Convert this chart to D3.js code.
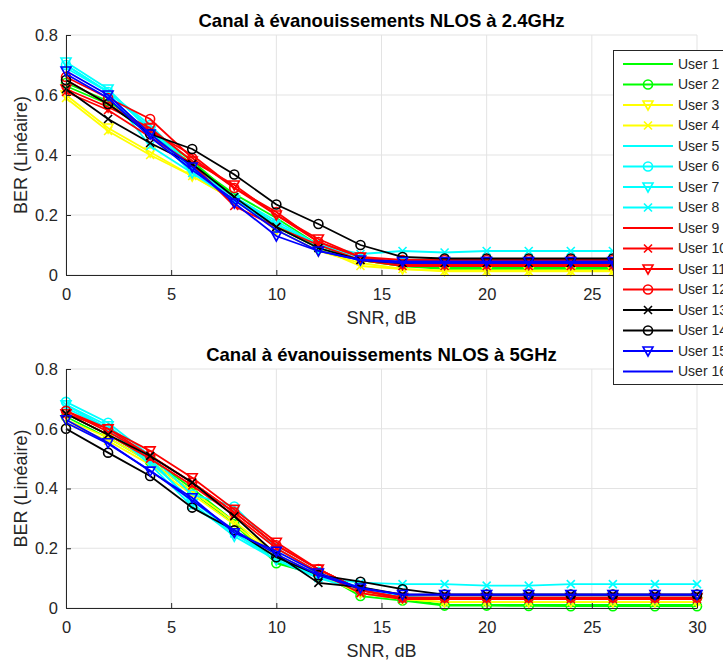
<!DOCTYPE html>
<html><head><meta charset="utf-8">
<script src="https://cdn.jsdelivr.net/npm/d3@7"></script>
<style>body{margin:0;background:#fff}svg{display:block;font-family:"Liberation Sans",Arial,sans-serif}</style>
</head><body><svg id="c" width="723" height="664"></svg>
<script>
const snr = [0,2,4,6,8,10,12,14,16,18,20,22,24,26,28,30];
const xTicks = [0,5,10,15,20,25,30];
const yTicks = [0,0.2,0.4,0.6,0.8];
const users = ["User 1","User 2","User 3","User 4","User 5","User 6","User 7","User 8","User 9","User 10","User 11","User 12","User 13","User 14","User 15","User 16"];
const colors = ["#00ff00","#00ff00","#ffff00","#ffff00","#00ffff","#00ffff","#00ffff","#00ffff","#ff0000","#ff0000","#ff0000","#ff0000","#000000","#000000","#0000ff","#0000ff"];
const markers = ["none","o","v","x","none","o","v","x","none","x","v","o","x","o","v","none"];
const titles = ["Canal à évanouissements NLOS à 2.4GHz","Canal à évanouissements NLOS à 5GHz"];
const xLabel = "SNR, dB";
const yLabel = "BER (Linéaire)";

const ber24 = [
 [0.63,0.57,0.47,0.37,0.27,0.19,0.10,0.05,0.03,0.02,0.02,0.02,0.02,0.02,0.02,0.02],
 [0.64,0.58,0.48,0.38,0.26,0.17,0.09,0.05,0.03,0.025,0.025,0.025,0.025,0.025,0.025,0.025],
 [0.60,0.49,0.41,0.33,0.25,0.15,0.08,0.04,0.02,0.015,0.015,0.015,0.015,0.015,0.015,0.015],
 [0.59,0.48,0.40,0.33,0.25,0.16,0.09,0.03,0.02,0.012,0.012,0.012,0.012,0.012,0.012,0.012],
 [0.69,0.61,0.49,0.35,0.26,0.18,0.10,0.06,0.04,0.035,0.035,0.035,0.035,0.035,0.035,0.035],
 [0.70,0.61,0.50,0.36,0.26,0.17,0.10,0.06,0.04,0.04,0.04,0.04,0.04,0.04,0.04,0.04],
 [0.71,0.62,0.48,0.34,0.25,0.16,0.09,0.05,0.04,0.035,0.035,0.035,0.035,0.035,0.035,0.035],
 [0.70,0.61,0.43,0.34,0.25,0.17,0.10,0.07,0.08,0.075,0.08,0.08,0.08,0.08,0.08,0.08],
 [0.65,0.57,0.48,0.40,0.29,0.20,0.11,0.06,0.04,0.035,0.035,0.035,0.035,0.035,0.035,0.035],
 [0.61,0.55,0.46,0.37,0.23,0.16,0.10,0.05,0.03,0.03,0.03,0.03,0.03,0.03,0.03,0.03],
 [0.62,0.56,0.49,0.38,0.30,0.20,0.12,0.06,0.035,0.035,0.035,0.035,0.035,0.035,0.035,0.035],
 [0.66,0.59,0.52,0.39,0.29,0.21,0.11,0.06,0.05,0.05,0.05,0.05,0.05,0.05,0.05,0.05],
 [0.62,0.52,0.44,0.37,0.26,0.16,0.09,0.05,0.04,0.04,0.04,0.04,0.04,0.04,0.04,0.04],
 [0.65,0.57,0.47,0.42,0.335,0.235,0.17,0.10,0.06,0.055,0.055,0.055,0.055,0.055,0.055,0.055],
 [0.68,0.60,0.47,0.36,0.24,0.13,0.08,0.05,0.045,0.045,0.045,0.045,0.045,0.045,0.045,0.045],
 [0.67,0.59,0.46,0.35,0.25,0.15,0.08,0.05,0.04,0.04,0.04,0.04,0.04,0.04,0.04,0.04]
];
const ber5 = [
 [0.65,0.58,0.50,0.40,0.29,0.15,0.11,0.05,0.03,0.01,0.01,0.01,0.01,0.01,0.01,0.01],
 [0.64,0.57,0.49,0.39,0.28,0.15,0.12,0.04,0.025,0.008,0.008,0.007,0.006,0.006,0.006,0.006],
 [0.63,0.57,0.49,0.39,0.29,0.18,0.11,0.05,0.03,0.02,0.02,0.02,0.02,0.02,0.02,0.02],
 [0.62,0.56,0.48,0.38,0.28,0.17,0.11,0.05,0.03,0.02,0.02,0.02,0.02,0.02,0.02,0.02],
 [0.67,0.60,0.49,0.36,0.25,0.16,0.11,0.07,0.04,0.03,0.03,0.03,0.03,0.03,0.03,0.03],
 [0.69,0.62,0.51,0.38,0.34,0.20,0.12,0.06,0.035,0.035,0.035,0.035,0.035,0.035,0.035,0.035],
 [0.68,0.61,0.50,0.35,0.24,0.16,0.10,0.06,0.035,0.035,0.035,0.035,0.035,0.035,0.035,0.035],
 [0.68,0.60,0.48,0.34,0.25,0.17,0.10,0.085,0.08,0.08,0.075,0.075,0.08,0.08,0.08,0.08],
 [0.66,0.59,0.51,0.42,0.32,0.21,0.13,0.06,0.03,0.03,0.03,0.03,0.03,0.03,0.03,0.03],
 [0.65,0.58,0.50,0.41,0.31,0.20,0.12,0.05,0.03,0.03,0.03,0.03,0.03,0.03,0.03,0.03],
 [0.65,0.60,0.526,0.436,0.33,0.22,0.13,0.06,0.035,0.035,0.035,0.035,0.035,0.035,0.035,0.035],
 [0.66,0.60,0.51,0.42,0.32,0.21,0.13,0.06,0.035,0.035,0.035,0.035,0.035,0.035,0.035,0.035],
 [0.65,0.58,0.509,0.42,0.307,0.179,0.084,0.07,0.045,0.045,0.045,0.045,0.045,0.045,0.045,0.045],
 [0.60,0.52,0.442,0.336,0.26,0.17,0.11,0.088,0.063,0.045,0.045,0.045,0.045,0.045,0.045,0.045],
 [0.63,0.553,0.458,0.369,0.252,0.19,0.117,0.067,0.045,0.045,0.045,0.045,0.045,0.045,0.045,0.045],
 [0.62,0.55,0.46,0.36,0.26,0.18,0.11,0.065,0.045,0.045,0.045,0.045,0.045,0.045,0.045,0.045]
];

const svg = d3.select("#c");
const axisCol = "#262626";
const panels = [{top:35,bottom:275,data:ber24,title:titles[0],hideLast:true},{top:369,bottom:608,data:ber5,title:titles[1],hideLast:false}];
const left = 66, right = 697;

function drawMarker(g, type, color, cx, cy) {
  if (type === "o") g.append("circle").attr("cx",cx).attr("cy",cy).attr("r",4.5).attr("fill","none").attr("stroke",color).attr("stroke-width",1.6);
  else if (type === "v") g.append("path").attr("d",`M${cx-5},${cy-4}L${cx+5},${cy-4}L${cx},${cy+5}Z`).attr("fill","none").attr("stroke",color).attr("stroke-width",1.6);
  else if (type === "x") g.append("path").attr("d",`M${cx-4},${cy-4}L${cx+4},${cy+4}M${cx-4},${cy+4}L${cx+4},${cy-4}`).attr("stroke",color).attr("stroke-width",1.6);
}

panels.forEach(p => {
  const x = d3.scaleLinear().domain([0,30]).range([left,right]);
  const y = d3.scaleLinear().domain([0,0.8]).range([p.bottom,p.top]);
  const g = svg.append("g");
  g.append("g").selectAll("line").data(xTicks).join("line")
    .attr("x1",d=>x(d)).attr("x2",d=>x(d)).attr("y1",p.top).attr("y2",p.bottom)
    .attr("stroke","#e3e3e3").attr("stroke-width",1);
  g.append("g").selectAll("line").data(yTicks).join("line")
    .attr("x1",left).attr("x2",right).attr("y1",d=>y(d)).attr("y2",d=>y(d))
    .attr("stroke","#e3e3e3").attr("stroke-width",1);
  const line = d3.line().x((d,i)=>x(snr[i])).y(d=>y(d));
  p.data.forEach((vals,k) => {
    const sg = g.append("g");
    sg.append("path").datum(vals).attr("d",line).attr("fill","none").attr("stroke",colors[k]).attr("stroke-width",1.8);
    if (markers[k] !== "none") vals.forEach((v,i)=>drawMarker(sg,markers[k],colors[k],x(snr[i]),y(v)));
  });
  const ax = g.append("g").attr("transform",`translate(0,${p.bottom})`)
    .call(d3.axisBottom(x).tickValues(xTicks).tickFormat(d => (p.hideLast && d===30) ? "" : d3.format("d")(d)).tickSizeInner(-5).tickSizeOuter(0).tickPadding(13));
  const ay = g.append("g").attr("transform",`translate(${left},0)`)
    .call(d3.axisLeft(y).tickValues(yTicks).tickFormat(d=>d===0?"0":d3.format(".1f")(d)).tickSizeInner(-5).tickSizeOuter(0).tickPadding(8));
  [ax,ay].forEach(a=>{
    a.select(".domain").attr("stroke",axisCol).attr("stroke-width",1);
    a.selectAll(".tick line").attr("stroke",axisCol);
    a.selectAll("text").attr("fill",axisCol).attr("font-size",16.5).attr("font-family","Liberation Sans, Arial, sans-serif");
  });
  ax.selectAll(".tick text").attr("dy","0.71em");
  g.append("text").attr("x",(left+right)/2).attr("y",p.bottom+49).attr("text-anchor","middle")
    .attr("font-size",18).attr("fill",axisCol).text(xLabel);
  g.append("text").attr("transform",`translate(27,${(p.top+p.bottom)/2}) rotate(-90)`).attr("text-anchor","middle")
    .attr("font-size",18).attr("fill",axisCol).text(yLabel);
  g.append("text").attr("x",(left+right)/2).attr("y",p.top-8).attr("text-anchor","middle")
    .attr("font-size",18.5).attr("font-weight","bold").attr("fill","#000").text(p.title);
});

const lg = svg.append("g");
lg.append("rect").attr("x",613.5).attr("y",50.5).attr("width",140).attr("height",334)
  .attr("fill","#fff").attr("stroke",axisCol).attr("stroke-width",1);
users.forEach((u,k)=>{
  const cy = 64 + k*20.5;
  lg.append("line").attr("x1",623).attr("x2",673).attr("y1",cy).attr("y2",cy).attr("stroke",colors[k]).attr("stroke-width",1.8);
  if (markers[k] !== "none") drawMarker(lg,markers[k],colors[k],648,cy);
  lg.append("text").attr("x",678).attr("y",cy).attr("dy","0.35em").attr("font-size",14).attr("fill",axisCol).text(u);
});
</script></body></html>
